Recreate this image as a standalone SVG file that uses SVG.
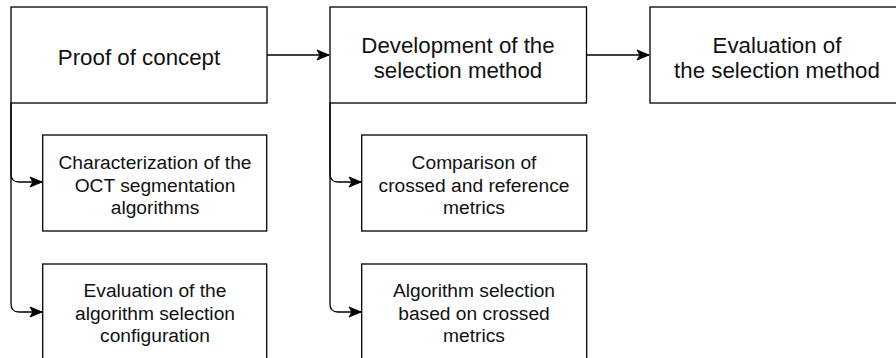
<svg xmlns="http://www.w3.org/2000/svg" width="896" height="358" viewBox="0 0 896 358">
<style>
.box{fill:#fff;stroke:#000;stroke-width:1.3}
.edge{fill:none;stroke:#000;stroke-width:1.3}
.t{font-family:"Liberation Sans",Arial,sans-serif;fill:#111;text-anchor:middle}
.big{font-size:22.3px}
.small{font-size:19.2px}
</style>
<defs>
<marker id="arr" markerUnits="userSpaceOnUse" markerWidth="14" markerHeight="12" viewBox="-12 -6 14 12" refX="0" refY="0" orient="auto" overflow="visible">
<path d="M0,0 L-12,-5 L-9,0 L-12,5 Z" fill="#000" stroke="#000" stroke-width="1"/>
</marker>
</defs>
<rect width="896" height="358" fill="#fff"/>
<g id="connectors">
<path class="edge" d="M267,55 L329,55" marker-end="url(#arr)"/>
<path class="edge" d="M586.5,55 L649,55" marker-end="url(#arr)"/>
<path class="edge" d="M11,103 L11,174 Q11,182 19,182 L42,182" marker-end="url(#arr)"/>
<path class="edge" d="M11,103 L11,304 Q11,312 19,312 L42,312" marker-end="url(#arr)"/>
<path class="edge" d="M330,103 L330,174 Q330,182 338,182 L361,182" marker-end="url(#arr)"/>
<path class="edge" d="M330,103 L330,304 Q330,312 338,312 L361,312" marker-end="url(#arr)"/>
</g>
<g id="proof">
<rect class="box" x="11" y="7" width="256" height="96"/>
<text class="t big" x="139" y="65">Proof of concept</text>
</g>
<g id="development">
<rect class="box" x="330" y="7" width="256.5" height="96"/>
<text class="t big" x="458" y="52.5">Development of the</text>
<text class="t big" x="458" y="77.5">selection method</text>
</g>
<g id="evaluation">
<rect class="box" x="650" y="7" width="256" height="96"/>
<text class="t big" x="777" y="52.5">Evaluation of</text>
<text class="t big" x="777" y="77.5">the selection method</text>
</g>
<g id="characterization">
<rect class="box" x="42.7" y="135" width="224" height="96"/>
<text class="t small" x="155" y="169">Characterization of the</text>
<text class="t small" x="155" y="191.5">OCT segmentation</text>
<text class="t small" x="155" y="214">algorithms</text>
</g>
<g id="eval-config">
<rect class="box" x="42.7" y="264" width="224" height="100"/>
<text class="t small" x="155" y="297">Evaluation of the</text>
<text class="t small" x="155" y="319.5">algorithm selection</text>
<text class="t small" x="155" y="342">configuration</text>
</g>
<g id="comparison">
<rect class="box" x="361.7" y="135" width="225" height="96"/>
<text class="t small" x="474" y="169">Comparison of</text>
<text class="t small" x="474" y="191.5">crossed and reference</text>
<text class="t small" x="474" y="214">metrics</text>
</g>
<g id="selection">
<rect class="box" x="361.7" y="264" width="225" height="100"/>
<text class="t small" x="474" y="297">Algorithm selection</text>
<text class="t small" x="474" y="319.5">based on crossed</text>
<text class="t small" x="474" y="342">metrics</text>
</g>
</svg>
